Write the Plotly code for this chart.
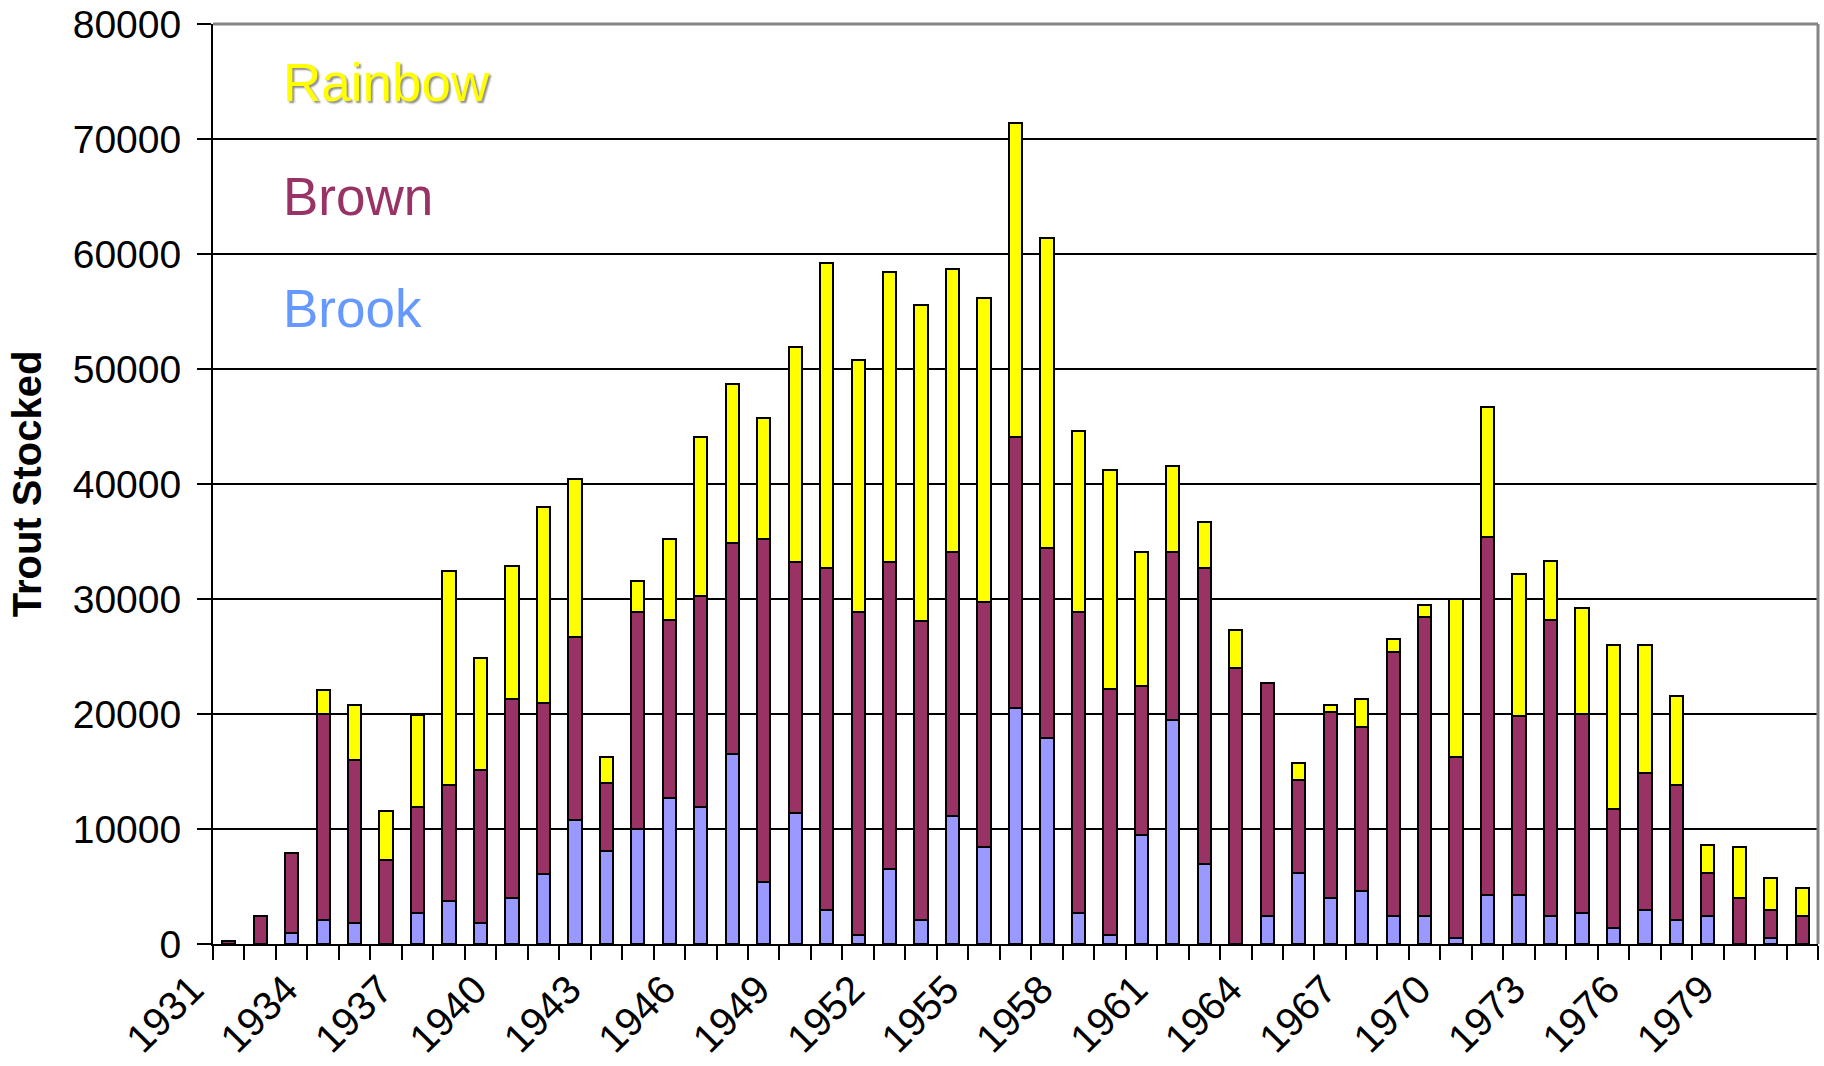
import plotly.graph_objects as go

# Trout stocked per year, split by species (stacked bottom to top: Brook, Brown, Rainbow)
years = list(range(1931, 1982))

brook = [
    0, 0, 1000, 2100, 1800, 0, 2700, 3700, 1800, 4000,
    6100, 10800, 8100, 10000, 12700, 11900, 16500, 5400, 11400, 3000,
    800, 6500, 2100, 11100, 8400, 20500, 17900, 2700, 800, 9500,
    19500, 7000, 0, 2400, 6200, 4000, 4600, 2400, 2400, 500,
    4300, 4300, 2400, 2700, 1400, 3000, 2100, 2400, 0, 500,
    0,
]
brown = [
    250, 2400, 6900, 17900, 14200, 7300, 9200, 10100, 13300, 17300,
    14900, 15900, 5900, 18900, 15500, 18400, 18400, 29800, 21800, 29700,
    28100, 26700, 26000, 23000, 21300, 23600, 16500, 26200, 21400, 12900,
    14600, 25700, 24000, 20300, 8100, 16200, 14300, 23000, 26000, 15800,
    31100, 15500, 25800, 17300, 10300, 11900, 11700, 3800, 4000, 2500,
    2400,
]
rainbow = [
    0, 0, 0, 2100, 4800, 4300, 8000, 18600, 9800, 11600,
    17000, 13700, 2300, 2700, 7000, 13800, 13800, 10500, 18700, 26500,
    21900, 25200, 27500, 24600, 26500, 27300, 27000, 15700, 19000, 11700,
    7500, 4000, 3300, 0, 1400, 600, 2400, 1100, 1100, 13700,
    11300, 12400, 5100, 9200, 14300, 11100, 7800, 2400, 4400, 2700,
    2500,
]

tick_years = [1931, 1934, 1937, 1940, 1943, 1946, 1949, 1952, 1955,
              1958, 1961, 1964, 1967, 1970, 1973, 1976, 1979]
tick_labels = [str(y) for y in tick_years]

species = [
    ("Brook", brook, "#9999FF", "#6699FF"),
    ("Brown", brown, "#993366", "#993366"),
    ("Rainbow", rainbow, "#FFFF00", "#FFFF00"),
]

FONT = "Liberation Sans, Arial, sans-serif"

fig = go.Figure()
for name, vals, fill, _ in species:
    fig.add_trace(go.Bar(
        x=years, y=vals, name=name, width=0.42,
        marker=dict(color=fill, line=dict(color="black", width=2)),
    ))

fig.update_layout(
    width=1824, height=1066,
    margin=dict(l=213, r=6, t=24, b=122, autoexpand=False),
    barmode="stack",
    showlegend=False,
    plot_bgcolor="white", paper_bgcolor="white",
    font=dict(family=FONT, size=39, color="black"),
)

fig.update_xaxes(
    range=[1930.5, 1981.5],
    tickmode="array", tickvals=tick_years, ticktext=tick_labels,
    tickangle=-45, ticks="", ticklen=0,
    ticklabelshift=-37, ticklabelstandoff=4,
    tickfont=dict(family=FONT, size=40, color="black"),
    showgrid=False, zeroline=False,
    showline=True, linecolor="black", linewidth=2,
    minor=dict(tick0=1930.5, dtick=1, ticks="outside", ticklen=14,
               tickwidth=2, tickcolor="black", showgrid=False),
)

fig.update_yaxes(
    range=[0, 80000], tick0=0, dtick=10000, tickformat="d",
    ticks="outside", ticklen=14, tickwidth=2, tickcolor="black",
    ticklabelstandoff=8,
    tickfont=dict(family=FONT, size=39, color="black"),
    showgrid=True, gridcolor="black", gridwidth=2,
    zeroline=False,
    showline=True, linecolor="black", linewidth=2,
    title=dict(text="<b>Trout Stocked</b>", standoff=19,
               font=dict(family=FONT, size=40, color="black")),
)

# Gray frame along top and right edges of the plot area
fig.add_shape(type="line", xref="paper", yref="paper", x0=0, x1=1, y0=1, y1=1,
              line=dict(color="#858585", width=3), layer="above")
fig.add_shape(type="line", xref="paper", yref="paper", x0=1, x1=1, y0=0, y1=1,
              line=dict(color="#858585", width=3), layer="above")

# Species key written inside the plot
key_pos = {"Rainbow": 0.936, "Brown": 0.813, "Brook": 0.691}
for name, _, _, text_color in species:
    font = dict(family=FONT, size=53, color=text_color)
    if name == "Rainbow":
        font["shadow"] = "2px 2px 2px rgba(0,0,0,0.45)"
    fig.add_annotation(
        text=name, xref="paper", yref="paper",
        x=0.0425, y=key_pos[name], xanchor="left", yanchor="middle",
        showarrow=False, font=font,
    )

fig.write_html("out.html")
